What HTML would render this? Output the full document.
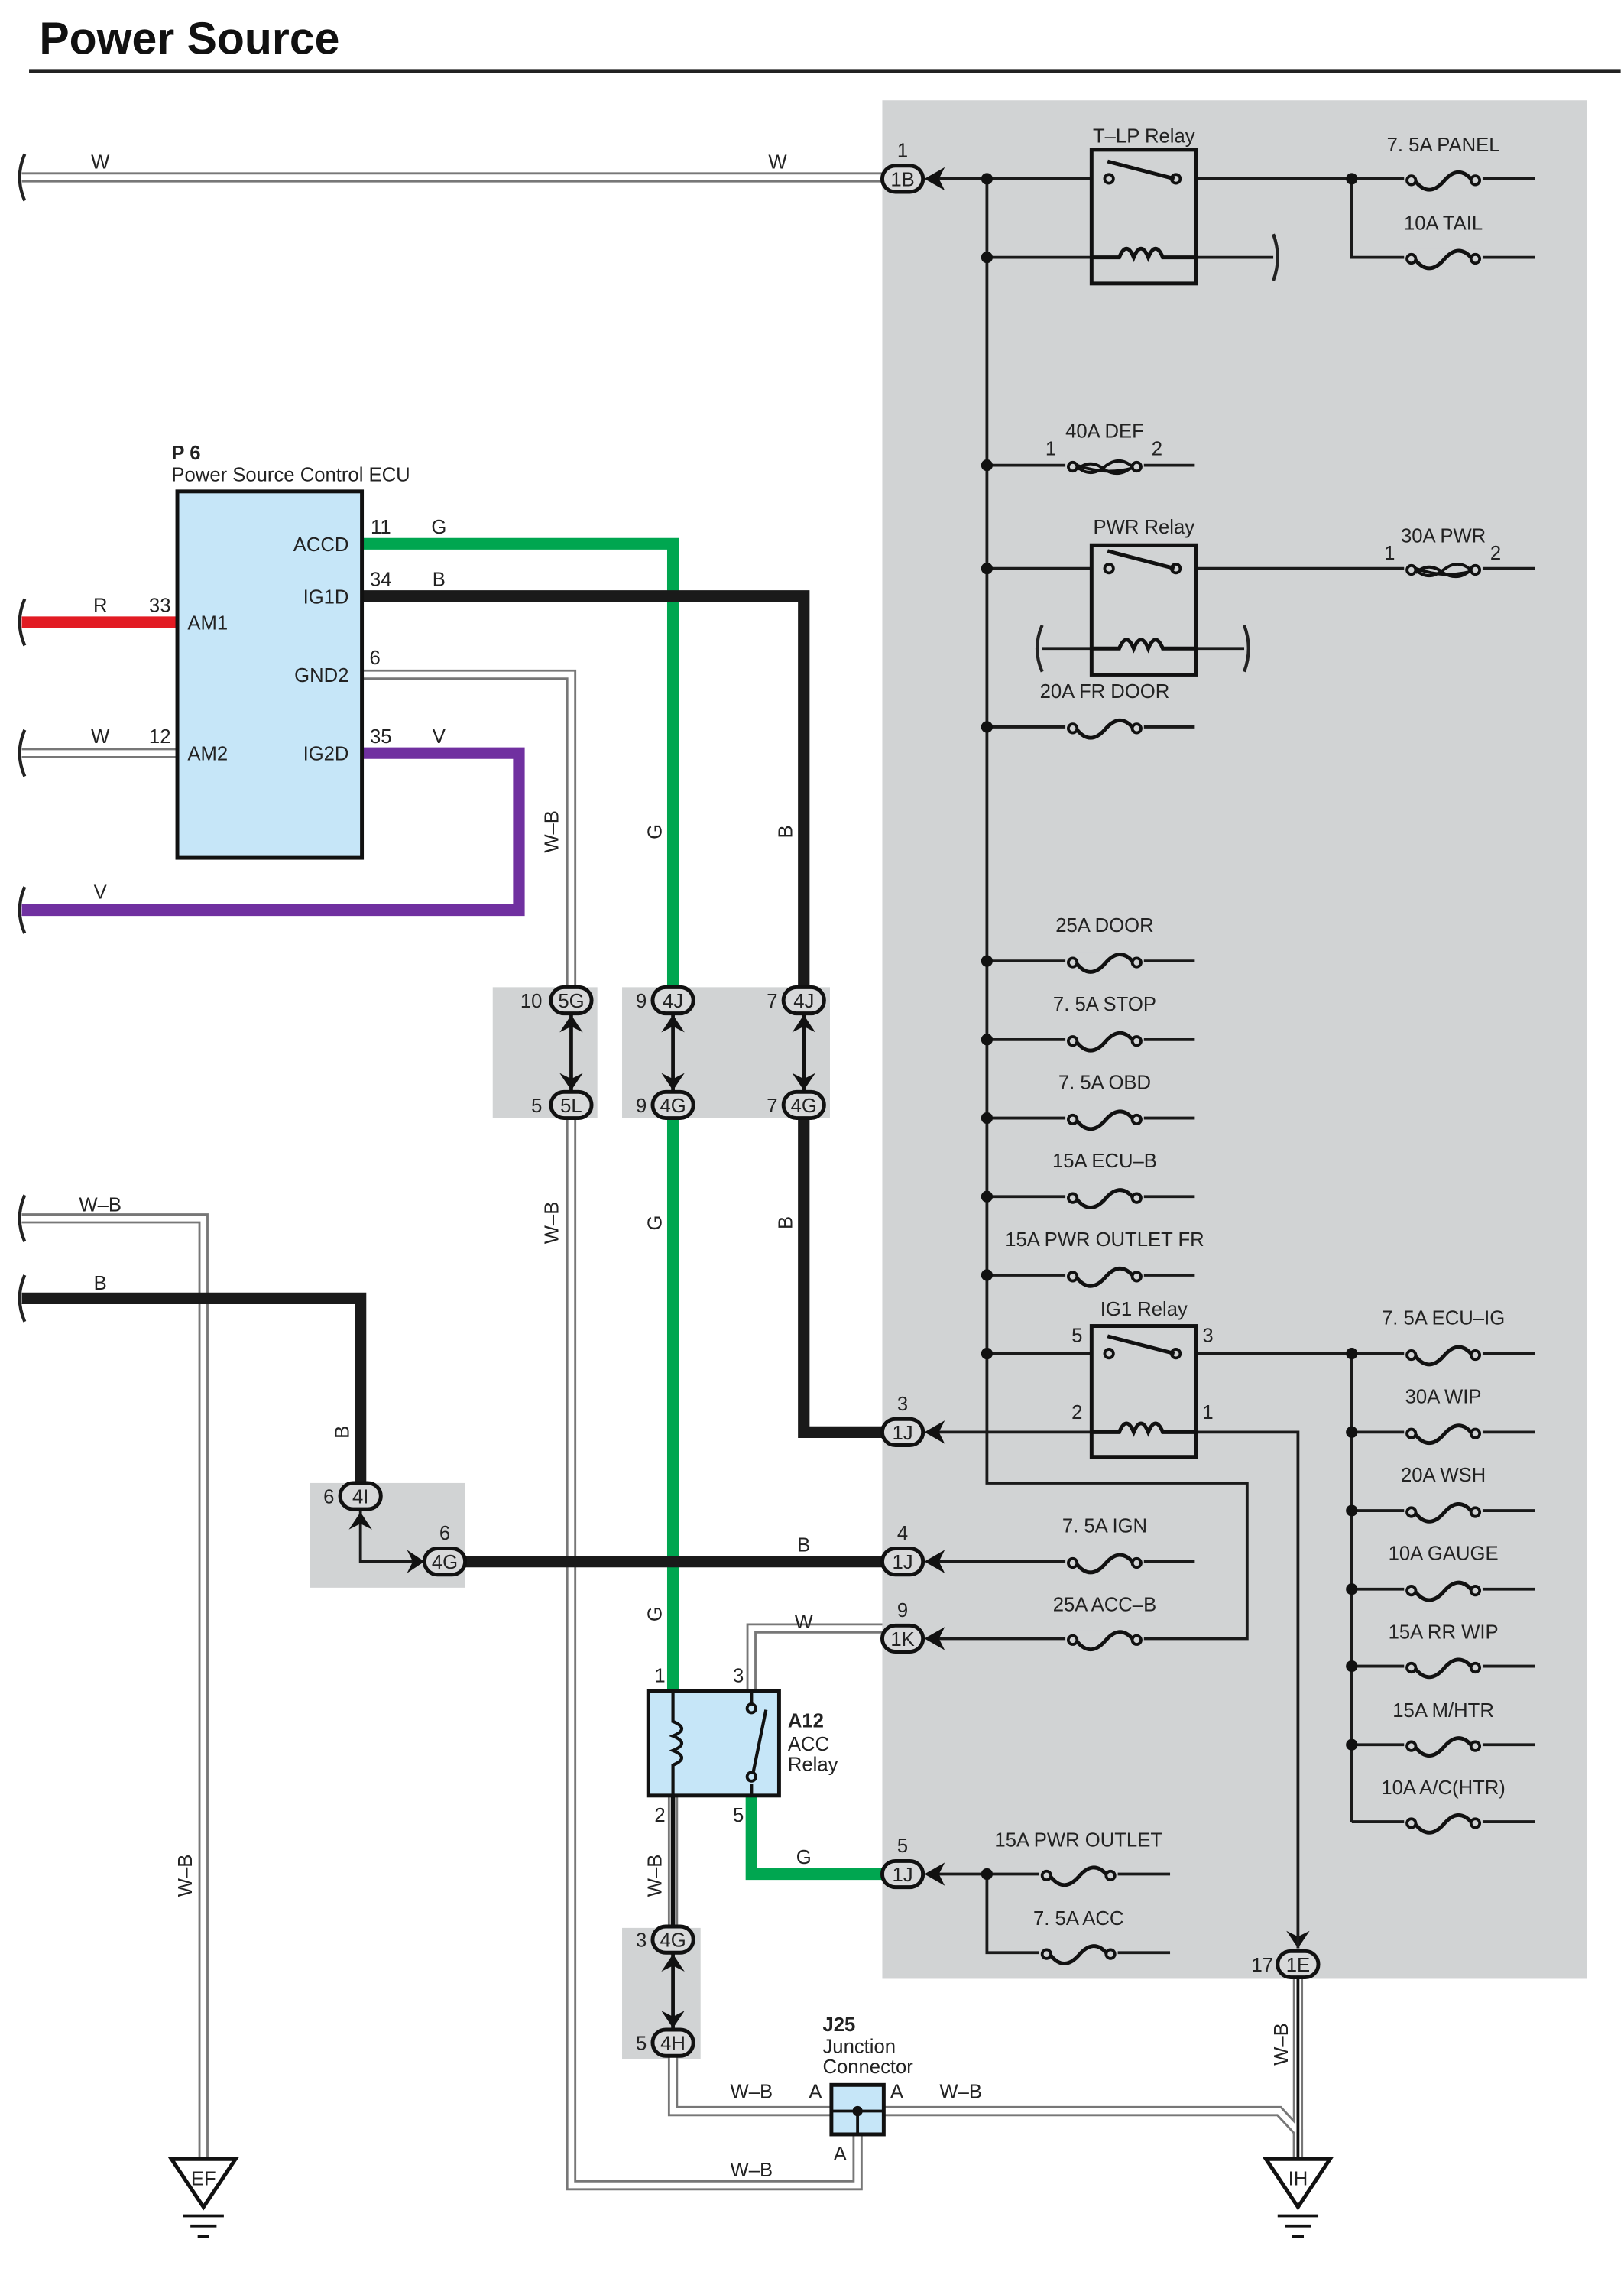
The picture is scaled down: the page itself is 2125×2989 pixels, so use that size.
<!DOCTYPE html>
<html><head><meta charset="utf-8"><style>
html,body{margin:0;padding:0;background:#fff}
svg{display:block}
text{font-family:"Liberation Sans",sans-serif;font-size:13.5px;fill:#222}
.c{text-anchor:middle}
.r{text-anchor:end}
</style></head><body>
<svg width="2125" height="2989" viewBox="0 0 1117.3 1571.6" preserveAspectRatio="none" xmlns="http://www.w3.org/2000/svg">
<text x="27" y="37" style="font-size:31px;font-weight:bold;fill:#111">Power Source</text>
<line x1="20" y1="49" x2="1115" y2="49" stroke="#222" stroke-width="3"/>
<!-- gray areas -->
<rect x="607" y="69" width="485" height="1292" fill="#d1d3d4"/>
<rect x="339" y="679" width="72" height="90" fill="#d1d3d4"/>
<rect x="428" y="679" width="143" height="90" fill="#d1d3d4"/>
<rect x="213" y="1020" width="107" height="72" fill="#d1d3d4"/>
<rect x="428" y="1326" width="54" height="90" fill="#d1d3d4"/>

<!-- double wires -->
<g fill="none" stroke-linejoin="miter">
<g stroke="#777" stroke-width="7">
<path d="M15 122 H607"/>
<path d="M15 518 H122"/>
<path d="M249 464 H393 V688"/>
<path d="M393 760 V1503 H590 V1452"/>
<path d="M15 838 H140 V1485"/>
<path d="M517 1163 V1120 H607"/>
<path d="M463 1235 V1334"/>
<path d="M463 1405 V1452 H590"/>
<path d="M590 1452 H880 L893 1466 V1485"/>
<path d="M893 1360 V1485"/>
</g>
<g stroke="#fff" stroke-width="4">
<path d="M15 122 H607"/>
<path d="M15 518 H122"/>
<path d="M249 464 H393 V688"/>
<path d="M393 760 V1503 H590 V1452"/>
<path d="M15 838 H140 V1485"/>
<path d="M517 1163 V1120 H607"/>
<path d="M463 1235 V1334"/>
<path d="M463 1405 V1452 H590"/>
<path d="M590 1452 H880 L893 1466 V1485"/>
<path d="M893 1360 V1485"/>
</g>
<path d="M463 1235 V1334" stroke="#111" stroke-width="3"/>
<path d="M893 1360 V1485" stroke="#111" stroke-width="2"/>
<!-- thick colored wires -->
<path d="M15 428 H122" stroke="#e21b23" stroke-width="8"/>
<path d="M249 374 H463 V688" stroke="#00a650" stroke-width="8"/>
<path d="M463 760 V1163" stroke="#00a650" stroke-width="8"/>
<path d="M517 1235 V1289 H607" stroke="#00a650" stroke-width="8"/>
<path d="M249 518 H357 V626 H15" stroke="#7030a0" stroke-width="8"/>
<path d="M249 410 H553 V688" stroke="#1a1a1a" stroke-width="8"/>
<path d="M553 760 V985 H607" stroke="#1a1a1a" stroke-width="8"/>
<path d="M15 893 H248 V1020" stroke="#1a1a1a" stroke-width="8"/>
<path d="M320 1074 H607" stroke="#1a1a1a" stroke-width="8"/>
<path d="M248 1038 V1074 H292" stroke="#1a1a1a" stroke-width="2"/>
<!-- arrows between connectors -->
<path d="M393 697 V751 M463 697 V751 M553 697 V751 M463 1343 V1396" stroke="#111" stroke-width="2.5"/>
</g>
<g fill="#111">
<path d="M385 710 L393 698 L401 710 L393 706Z M385 738 L393 750 L401 738 L393 742Z"/>
<path d="M455 710 L463 698 L471 710 L463 706Z M455 738 L463 750 L471 738 L463 742Z"/>
<path d="M545 710 L553 698 L561 710 L553 706Z M545 738 L553 750 L561 738 L553 742Z"/>
<path d="M455 1356 L463 1344 L471 1356 L463 1352Z M455 1383 L463 1395 L471 1383 L463 1387Z"/>
<path d="M240 1052 L248 1040 L256 1052 L248 1048Z"/>
<path d="M280 1066 L292 1074 L280 1082 L284 1074Z"/>
<path d="M885 1328 L893 1340 L901 1328 L893 1332Z"/>
</g>
<!-- break marks -->
<g fill="none" stroke="#222" stroke-width="2.2">
<path d="M17 106 Q10 122 17 138"/><path d="M17 412 Q10 428 17 444"/><path d="M17 502 Q10 518 17 534"/>
<path d="M17 610 Q10 626 17 642"/><path d="M17 822 Q10 838 17 854"/><path d="M17 877 Q10 893 17 909"/>
<path d="M876 161 Q882 177 876 193"/><path d="M717 430 Q710 446 717 462"/><path d="M856 430 Q862 446 856 462"/>
</g>

<!-- gray box internal wiring -->
<g fill="none" stroke="#1a1a1a" stroke-width="2">
<path d="M640 123 H751 M823 123 H1056 M930 123 V177 H1056"/>
<path d="M679 123 V1020 H858 V1127 H640"/>
<path d="M679 177 H751 M823 177 H876"/>
<path d="M679 320 H822"/>
<path d="M679 391 H751 M823 391 H1056"/>
<path d="M717 446 H751 M823 446 H856"/>
<path d="M679 500 H822 M679 661 H822 M679 715 H822 M679 769 H822 M679 823 H822 M679 877 H822"/>
<path d="M679 931 H751 M823 931 H1056 M930 931 V1253"/>
<path d="M930 985 H1056 M930 1039 H1056 M930 1093 H1056 M930 1146 H1056 M930 1200 H1056 M930 1253 H1056"/>
<path d="M640 985 H751 M823 985 H893 V1340"/>
<path d="M640 1074 H822"/>
<path d="M640 1289 H805 M679 1289 V1343 H805"/>
</g>
<!-- junction dots -->
<g fill="#111">
<circle cx="679" cy="123" r="4"/><circle cx="679" cy="177" r="4"/><circle cx="930" cy="123" r="4"/>
<circle cx="679" cy="320" r="4"/><circle cx="679" cy="391" r="4"/><circle cx="679" cy="500" r="4"/>
<circle cx="679" cy="661" r="4"/><circle cx="679" cy="715" r="4"/><circle cx="679" cy="769" r="4"/>
<circle cx="679" cy="823" r="4"/><circle cx="679" cy="877" r="4"/><circle cx="679" cy="931" r="4"/>
<circle cx="930" cy="931" r="4"/><circle cx="930" cy="985" r="4"/><circle cx="930" cy="1039" r="4"/>
<circle cx="930" cy="1093" r="4"/><circle cx="930" cy="1146" r="4"/><circle cx="930" cy="1200" r="4"/>
<circle cx="679" cy="1289" r="4"/><circle cx="590" cy="1452" r="3.5"/>
</g>
<!-- fuses: gray mask then symbol -->
<g fill="#d1d3d4" stroke="none">
<rect x="733" y="494" width="54" height="14"/><rect x="733" y="655" width="54" height="14"/><rect x="733" y="709" width="54" height="14"/>
<rect x="733" y="763" width="54" height="14"/><rect x="733" y="817" width="54" height="14"/><rect x="733" y="871" width="54" height="14"/>
<rect x="733" y="1068" width="54" height="14"/><rect x="733" y="1121" width="54" height="14"/>
<rect x="715" y="1283" width="54" height="14"/><rect x="715" y="1337" width="54" height="14"/>
<rect x="966" y="117" width="54" height="14"/><rect x="966" y="171" width="54" height="14"/>
<rect x="966" y="925" width="54" height="14"/><rect x="966" y="979" width="54" height="14"/><rect x="966" y="1033" width="54" height="14"/>
<rect x="966" y="1087" width="54" height="14"/><rect x="966" y="1140" width="54" height="14"/><rect x="966" y="1194" width="54" height="14"/><rect x="966" y="1247" width="54" height="14"/>
<rect x="733" y="314" width="54" height="14"/><rect x="966" y="385" width="54" height="14"/>
</g>
<defs>
<g id="f"><circle cx="-22" cy="0" r="3" fill="#d1d3d4" stroke="#111" stroke-width="2"/><circle cx="22" cy="0" r="3" fill="#d1d3d4" stroke="#111" stroke-width="2"/><path d="M-19 1 Q-10 12 0 1 Q10 -11 19 -1" fill="none" stroke="#111" stroke-width="2.6"/></g>
<g id="d"><circle cx="-22" cy="0" r="3" fill="#d1d3d4" stroke="#111" stroke-width="2"/><circle cx="22" cy="0" r="3" fill="#d1d3d4" stroke="#111" stroke-width="2"/><path d="M-19 0 Q-10 8 0 0 Q10 -8 19 0 M-19 2 Q-10 -6 0 2 Q10 8 19 0 M-19 -1 Q0 6 19 1" fill="none" stroke="#111" stroke-width="2"/></g>
</defs>
<use href="#f" x="760" y="501"/><use href="#f" x="760" y="662"/><use href="#f" x="760" y="716"/><use href="#f" x="760" y="770"/>
<use href="#f" x="760" y="824"/><use href="#f" x="760" y="878"/><use href="#f" x="760" y="1075"/><use href="#f" x="760" y="1128"/>
<use href="#f" x="742" y="1290"/><use href="#f" x="742" y="1344"/>
<use href="#f" x="993" y="124"/><use href="#f" x="993" y="178"/>
<use href="#f" x="993" y="932"/><use href="#f" x="993" y="986"/><use href="#f" x="993" y="1040"/><use href="#f" x="993" y="1094"/>
<use href="#f" x="993" y="1147"/><use href="#f" x="993" y="1201"/><use href="#f" x="993" y="1254"/>
<use href="#d" x="760" y="321"/><use href="#d" x="993" y="392"/>

<!-- relays in gray box -->
<g fill="none" stroke="#111" stroke-width="2.6">
<rect x="751" y="103" width="72" height="92"/>
<rect x="751" y="375" width="72" height="89"/>
<rect x="751" y="912" width="72" height="90"/>
</g>
<g fill="#d1d3d4" stroke="#111" stroke-width="2">
<circle cx="763" cy="123" r="3"/><circle cx="809" cy="123" r="3"/>
<circle cx="763" cy="391" r="3"/><circle cx="809" cy="391" r="3"/>
<circle cx="763" cy="931" r="3"/><circle cx="809" cy="931" r="3"/>
</g>
<g fill="none" stroke="#111" stroke-width="2.6">
<path d="M762 111 L808 123 M762 379 L808 391 M762 919 L808 931"/>
<path d="M751 177 H770 q5 -12 10 0 q5 -12 10 0 q5 -12 10 0 H823"/>
<path d="M751 446 H770 q5 -12 10 0 q5 -12 10 0 q5 -12 10 0 H823"/>
<path d="M751 985 H770 q5 -12 10 0 q5 -12 10 0 q5 -12 10 0 H823"/>
</g>

<!-- ECU -->
<rect x="122" y="338" width="127" height="252" fill="#c6e6f8" stroke="#111" stroke-width="2.6"/>
<!-- ACC relay -->
<rect x="446" y="1163" width="90" height="72" fill="#c6e6f8" stroke="#111" stroke-width="2.6"/>
<g fill="none" stroke="#111" stroke-width="2.2">
<path d="M463 1163 V1184 q12 5 0 10 q12 5 0 10 q12 5 0 10 V1235"/>
<path d="M517 1163 V1172 M517 1227 V1235 M518 1220 L527 1176"/>
</g>
<g fill="#c6e6f8" stroke="#111" stroke-width="2"><circle cx="517" cy="1175" r="3"/><circle cx="517" cy="1222" r="3"/></g>
<!-- J25 -->
<rect x="572" y="1434" width="36" height="34" fill="#c6e6f8" stroke="#111" stroke-width="2.6"/>
<path d="M572 1452 H608 M590 1452 V1468" stroke="#111" stroke-width="2"/>
<circle cx="590" cy="1452" r="3.5" fill="#111"/>

<!-- grounds -->
<g fill="#fff" stroke="#111" stroke-width="2.6">
<path d="M118 1485 H162 L140 1518Z"/><path d="M871 1485 H915 L893 1518Z"/>
</g>
<path d="M126 1524 H154 M131 1531 H149 M136 1538 H144 M879 1524 H907 M884 1531 H902 M889 1538 H897" stroke="#111" stroke-width="2"/>
<text x="140" y="1503" class="c">EF</text><text x="893" y="1503" class="c">IH</text>

<!-- connectors -->
<defs>
<g id="ch"><path d="M0 0 L14 -8 L10 0 L14 8Z" fill="#111"/></g>
</defs>
<g fill="#d8d9da" stroke="#111" stroke-width="2.6">
<rect x="607" y="114" width="28" height="18" rx="9"/>
<rect x="607" y="976" width="28" height="18" rx="9"/>
<rect x="607" y="1065" width="28" height="18" rx="9"/>
<rect x="607" y="1118" width="28" height="18" rx="9"/>
<rect x="607" y="1280" width="28" height="18" rx="9"/>
<rect x="879" y="1342" width="28" height="18" rx="9"/>
<rect x="379" y="679" width="28" height="18" rx="9"/><rect x="379" y="751" width="28" height="18" rx="9"/>
<rect x="449" y="679" width="28" height="18" rx="9"/><rect x="449" y="751" width="28" height="18" rx="9"/>
<rect x="539" y="679" width="28" height="18" rx="9"/><rect x="539" y="751" width="28" height="18" rx="9"/>
<rect x="234" y="1020" width="28" height="18" rx="9"/><rect x="292" y="1065" width="28" height="18" rx="9"/>
<rect x="449" y="1325" width="28" height="18" rx="9"/><rect x="449" y="1396" width="28" height="18" rx="9"/>
</g>
<use href="#ch" x="636" y="123"/><use href="#ch" x="636" y="985"/><use href="#ch" x="636" y="1074"/>
<use href="#ch" x="636" y="1127"/><use href="#ch" x="636" y="1289"/>
<g class="c">
<text x="621" y="128" class="c">1B</text><text x="621" y="990" class="c">1J</text><text x="621" y="1079" class="c">1J</text>
<text x="621" y="1132" class="c">1K</text><text x="621" y="1294" class="c">1J</text><text x="893" y="1356" class="c">1E</text>
<text x="393" y="693" class="c">5G</text><text x="393" y="765" class="c">5L</text>
<text x="463" y="693" class="c">4J</text><text x="463" y="765" class="c">4G</text>
<text x="553" y="693" class="c">4J</text><text x="553" y="765" class="c">4G</text>
<text x="248" y="1034" class="c">4I</text><text x="306" y="1079" class="c">4G</text>
<text x="463" y="1339" class="c">4G</text><text x="463" y="1410" class="c">4H</text>
</g>

<!-- pin numbers -->
<text x="621" y="108" class="c">1</text><text x="621" y="970" class="c">3</text><text x="621" y="1059" class="c">4</text>
<text x="621" y="1112" class="c">9</text><text x="621" y="1274" class="c">5</text><text x="876" y="1356" class="r">17</text>
<text x="373" y="693" class="r">10</text><text x="373" y="765" class="r">5</text>
<text x="445" y="693" class="r">9</text><text x="445" y="765" class="r">9</text>
<text x="535" y="693" class="r">7</text><text x="535" y="765" class="r">7</text>
<text x="230" y="1034" class="r">6</text><text x="306" y="1059" class="c">6</text>
<text x="445" y="1339" class="r">3</text><text x="445" y="1410" class="r">5</text>
<text x="741" y="923" class="c">5</text><text x="831" y="923" class="c">3</text><text x="741" y="976" class="c">2</text><text x="831" y="976" class="c">1</text>
<text x="723" y="313" class="c">1</text><text x="796" y="313" class="c">2</text>
<text x="956" y="385" class="c">1</text><text x="1029" y="385" class="c">2</text>
<text x="454" y="1157" class="c">1</text><text x="508" y="1157" class="c">3</text><text x="454" y="1253" class="c">2</text><text x="508" y="1253" class="c">5</text>

<!-- component labels -->
<text x="787" y="98" class="c">T–LP Relay</text>
<text x="993" y="104" class="c">7. 5A PANEL</text>
<text x="993" y="158" class="c">10A TAIL</text>
<text x="760" y="301" class="c">40A DEF</text>
<text x="787" y="367" class="c">PWR Relay</text>
<text x="993" y="373" class="c">30A PWR</text>
<text x="760" y="480" class="c">20A FR DOOR</text>
<text x="760" y="641" class="c">25A DOOR</text>
<text x="760" y="695" class="c">7. 5A STOP</text>
<text x="760" y="749" class="c">7. 5A OBD</text>
<text x="760" y="803" class="c">15A ECU–B</text>
<text x="760" y="857" class="c">15A PWR OUTLET FR</text>
<text x="787" y="905" class="c">IG1 Relay</text>
<text x="993" y="911" class="c">7. 5A ECU–IG</text>
<text x="993" y="965" class="c">30A WIP</text>
<text x="993" y="1019" class="c">20A WSH</text>
<text x="993" y="1073" class="c">10A GAUGE</text>
<text x="993" y="1127" class="c">15A RR WIP</text>
<text x="993" y="1181" class="c">15A M/HTR</text>
<text x="993" y="1234" class="c">10A A/C(HTR)</text>
<text x="760" y="1054" class="c">7. 5A IGN</text>
<text x="760" y="1108" class="c">25A ACC–B</text>
<text x="742" y="1270" class="c">15A PWR OUTLET</text>
<text x="742" y="1324" class="c">7. 5A ACC</text>
<text x="118" y="316" style="font-weight:bold">P 6</text>
<text x="118" y="331">Power Source Control ECU</text>
<text x="240" y="379" class="r">ACCD</text><text x="240" y="415" class="r">IG1D</text>
<text x="240" y="469" class="r">GND2</text><text x="240" y="523" class="r">IG2D</text>
<text x="129" y="433">AM1</text><text x="129" y="523">AM2</text>
<text x="542" y="1188" style="font-weight:bold">A12</text>
<text x="542" y="1204">ACC</text><text x="542" y="1218">Relay</text>
<text x="566" y="1397" style="font-weight:bold">J25</text>
<text x="566" y="1412">Junction</text><text x="566" y="1426">Connector</text>

<!-- wire labels -->
<text x="69" y="116" class="c">W</text><text x="535" y="116" class="c">W</text>
<text x="69" y="421" class="c">R</text><text x="110" y="421" class="c">33</text>
<text x="69" y="511" class="c">W</text><text x="110" y="511" class="c">12</text>
<text x="69" y="618" class="c">V</text>
<text x="262" y="367" class="c">11</text><text x="302" y="367" class="c">G</text>
<text x="262" y="403" class="c">34</text><text x="302" y="403" class="c">B</text>
<text x="258" y="457" class="c">6</text>
<text x="262" y="511" class="c">35</text><text x="302" y="511" class="c">V</text>
<text x="69" y="833" class="c">W–B</text><text x="69" y="887" class="c">B</text>
<text x="553" y="1067" class="c">B</text><text x="553" y="1120" class="c">W</text><text x="553" y="1282" class="c">G</text>
<text x="517" y="1443" class="c">W–B</text><text x="561" y="1443" class="c">A</text><text x="617" y="1443" class="c">A</text><text x="661" y="1443" class="c">W–B</text>
<text x="517" y="1497" class="c">W–B</text><text x="578" y="1486" class="c">A</text>
<g class="c">
<text transform="translate(384,572) rotate(-90)" class="c">W–B</text>
<text transform="translate(455,572) rotate(-90)" class="c">G</text>
<text transform="translate(545,572) rotate(-90)" class="c">B</text>
<text transform="translate(384,841) rotate(-90)" class="c">W–B</text>
<text transform="translate(455,841) rotate(-90)" class="c">G</text>
<text transform="translate(545,841) rotate(-90)" class="c">B</text>
<text transform="translate(240,985) rotate(-90)" class="c">B</text>
<text transform="translate(455,1110) rotate(-90)" class="c">G</text>
<text transform="translate(455,1290) rotate(-90)" class="c">W–B</text>
<text transform="translate(132,1290) rotate(-90)" class="c">W–B</text>
<text transform="translate(886,1406) rotate(-90)" class="c">W–B</text>
</g>
</svg>
</body></html>
